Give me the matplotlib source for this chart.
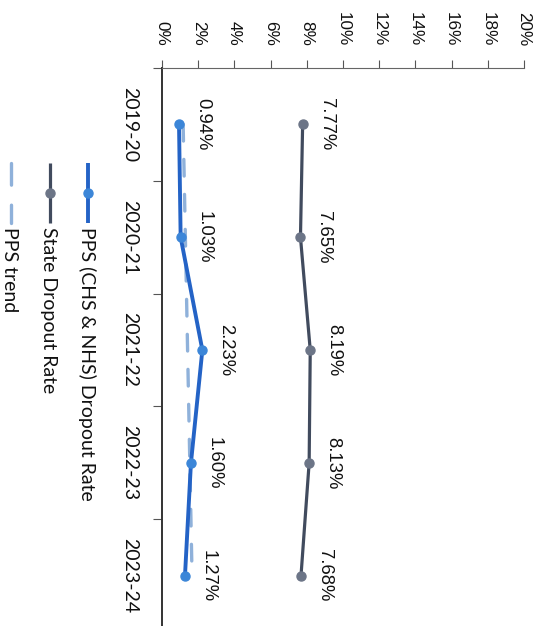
import numpy as np
import matplotlib
matplotlib.use("Agg")
import matplotlib.pyplot as plt
from matplotlib.lines import Line2D

# ---- data ----
years = ["2019-20", "2020-21", "2021-22", "2022-23", "2023-24"]
pps_rate = [0.94, 1.03, 2.23, 1.60, 1.27]
state_rate = [7.77, 7.65, 8.19, 8.13, 7.68]
value_ticks = list(range(0, 21, 2))
legend_labels = ["PPS (CHS & NHS) Dropout Rate", "State Dropout Rate", "PPS trend"]

W, H = 548, 626
fig = plt.figure(figsize=(W / 100, H / 100), dpi=100)
fig.patch.set_facecolor("white")

def fx(px):
    return px / W

def fy(py):
    return 1 - py / H

# rotated chart: values run left->right, categories top->bottom
ax = fig.add_axes([fx(162), fy(632), fx(524) - fx(162), fy(68) - fy(632)])
ax.set_xlim(0, 20)
ax.set_ylim(len(years) - 0.5, -0.5)

num_font = "Liberation Sans"
cat_font = "Lato"

pos = np.arange(len(years))
c_pps = "#2463c6"
c_pps_m = "#3c86d8"
c_state = "#414b5e"
c_state_m = "#6c7587"
c_trend = "#8fb1da"

# trend line (linear fit of PPS series)
coef = np.polyfit(pos, pps_rate, 1)
trend = np.polyval(coef, pos)
ax.plot(trend, pos, color=c_trend, lw=2.4, dashes=(5, 5.5), zorder=2,
        solid_capstyle="round", dash_capstyle="round")

ax.plot(state_rate, pos, color=c_state, lw=2.3, marker="o", ms=6.5,
        mfc=c_state_m, mec=c_state_m, zorder=3)
ax.plot(pps_rate, pos, color=c_pps, lw=2.8, marker="o", ms=6.5,
        mfc=c_pps_m, mec=c_pps_m, zorder=4)

for series in (pps_rate, state_rate):
    for v, p in zip(series, pos):
        ax.annotate(f"{v:.2f}%", (v, p), xytext=(19, 0), textcoords="offset pixels",
                    rotation=-90, rotation_mode="anchor", ha="center", va="baseline",
                    fontsize=13.3, family=num_font, color="#111111")

# value axis on top
ax.xaxis.tick_top()
ax.set_xticks(value_ticks)
ax.set_xticklabels([f"{t}%" for t in value_ticks], family=num_font, fontsize=12.3,
                   color="#111111")
for lbl in ax.get_xticklabels():
    lbl.set_rotation(-90)
    lbl.set_rotation_mode("anchor")
    lbl.set_ha("right")
    lbl.set_va("center")
ax.tick_params(axis="x", which="major", direction="out", length=5.8, width=0.8,
               color="#555555", pad=10)

# category axis on left: boundary ticks + centered labels
ax.set_yticks(np.arange(-0.5, len(years), 1.0))
ax.set_yticklabels([])
ax.set_yticks(pos, minor=True)
ax.set_yticklabels(years, minor=True, family=cat_font, fontsize=14,
                   color="#111111")
for lbl in ax.get_yticklabels(minor=True):
    lbl.set_rotation(-90)
    lbl.set_rotation_mode("anchor")
    lbl.set_ha("center")
    lbl.set_va("top")
ax.tick_params(axis="y", which="major", direction="out", length=6.5, width=0.8,
               color="#555555")
ax.tick_params(axis="y", which="minor", length=0, pad=17)

for s in ("right", "bottom"):
    ax.spines[s].set_visible(False)
ax.spines["top"].set_color("#666666")
ax.spines["top"].set_linewidth(0.8)
ax.spines["left"].set_color("#333333")
ax.spines["left"].set_linewidth(1.4)
ax.set_facecolor("none")

# manual rotated legend
leg_items = [
    dict(label=legend_labels[0], color=c_pps, mc=c_pps_m, lw=2.8, marker=True, dash=None,
         line_x=88, base_x=81.5),
    dict(label=legend_labels[1], color=c_state, mc=c_state_m, lw=2.3, marker=True, dash=None,
         line_x=49.5, base_x=43),
    dict(label=legend_labels[2], color=c_trend, mc=None, lw=2.4, marker=False, dash=(6.5, 6),
         line_x=11, base_x=4.5),
]
for it in leg_items:
    ln = Line2D([fx(it["line_x"])] * 2, [fy(163), fy(223)], transform=fig.transFigure,
                color=it["color"], lw=it["lw"], solid_capstyle="butt")
    if it["dash"] is not None:
        ln.set_dashes(it["dash"])
        ln.set_dash_capstyle("round")
    fig.add_artist(ln)
    if it["marker"]:
        mk = Line2D([fx(it["line_x"])], [fy(193)], transform=fig.transFigure,
                    marker="o", ms=6.5, mfc=it["mc"], mec=it["mc"], lw=0)
        fig.add_artist(mk)
    fig.text(fx(it["base_x"]), fy(227), it["label"], rotation=-90, rotation_mode="anchor",
             ha="left", va="baseline", family=cat_font, fontsize=14, color="#111111")

fig.savefig("out.png", dpi=100, facecolor="white")
